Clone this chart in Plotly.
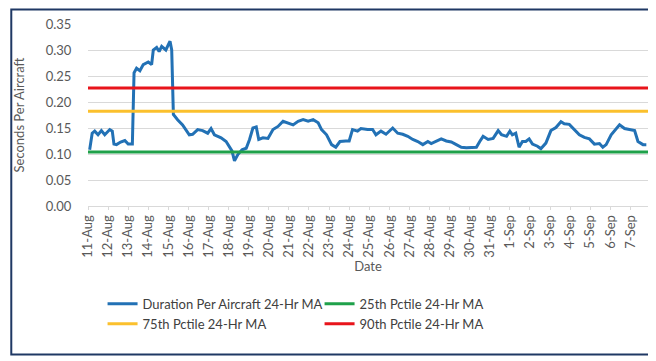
import pandas as pd
import plotly.graph_objects as go

# hours elapsed since 11-Aug 00:00 and the 24-Hr moving average (seconds per aircraft)
hours = [2, 5, 8, 12, 16, 20, 26, 29, 31, 34, 39, 44, 48, 53, 55, 58, 62, 66, 72, 76,
         78, 82, 85, 88, 93, 98, 100, 102, 107, 113, 121, 125, 131, 137, 143, 147, 151, 159,
         165, 169, 172, 175, 179, 184, 189, 193, 197, 201, 204, 209, 215, 221, 227, 233,
         239, 245, 251, 257, 263, 269, 275, 279, 285, 291, 296, 301, 308, 312, 316, 322,
         326, 334, 340, 344, 350, 356, 364, 370, 376, 382, 388, 394, 400, 406, 410, 416,
         422, 428, 434, 440, 446, 452, 458, 464, 468, 472, 478, 484, 490, 494, 500, 504,
         507, 511, 515, 519, 523, 527, 531, 537, 541, 547, 553, 559, 565, 569, 575, 581,
         587, 593, 599, 605, 611, 615, 619, 625, 631, 635, 641, 647, 653, 657, 663, 667]
duration_ma = [0.108, 0.140, 0.144, 0.137, 0.145, 0.137, 0.147, 0.144, 0.119, 0.118, 0.123,
               0.126, 0.119, 0.119, 0.256, 0.265, 0.260, 0.272, 0.277, 0.272, 0.300, 0.305,
               0.297, 0.307, 0.300, 0.317, 0.300, 0.176, 0.166, 0.156, 0.137, 0.138, 0.147,
               0.145, 0.140, 0.149, 0.137, 0.131, 0.124, 0.113, 0.106, 0.087, 0.099, 0.108,
               0.111, 0.128, 0.150, 0.152, 0.128, 0.131, 0.130, 0.147, 0.153, 0.163, 0.160,
               0.156, 0.163, 0.166, 0.163, 0.166, 0.160, 0.147, 0.137, 0.118, 0.113, 0.124,
               0.125, 0.125, 0.147, 0.144, 0.149, 0.147, 0.147, 0.137, 0.144, 0.138, 0.150,
               0.140, 0.138, 0.134, 0.128, 0.124, 0.118, 0.124, 0.120, 0.125, 0.129, 0.125,
               0.123, 0.118, 0.113, 0.112, 0.112, 0.113, 0.124, 0.134, 0.128, 0.130, 0.145,
               0.137, 0.134, 0.144, 0.137, 0.140, 0.113, 0.124, 0.124, 0.129, 0.119, 0.115,
               0.110, 0.121, 0.145, 0.151, 0.162, 0.158, 0.157, 0.147, 0.137, 0.132, 0.129,
               0.119, 0.120, 0.113, 0.118, 0.137, 0.149, 0.156, 0.149, 0.147, 0.145, 0.124,
               0.118, 0.118]
p25 = 0.104
p75 = 0.182
p90 = 0.227

start = pd.Timestamp("2019-08-11 00:00")
end = pd.Timestamp("2019-09-07 21:00")
dates = [start + pd.Timedelta(hours=h) for h in hours]
full_x = [start, end]

font = "Lato, 'Open Sans', sans-serif"
fig = go.Figure()
fig.add_trace(go.Scatter(x=dates, y=duration_ma, mode="lines", name="Duration Per Aircraft 24-Hr MA",
                         line=dict(color="#2271B5", width=3)))
fig.add_trace(go.Scatter(x=full_x, y=[p25, p25], mode="lines", name="25th Pctile 24-Hr MA",
                         line=dict(color="#1FA14A", width=3)))
fig.add_trace(go.Scatter(x=full_x, y=[p75, p75], mode="lines", name="75th Pctile 24-Hr MA",
                         line=dict(color="#FBC02D", width=3)))
fig.add_trace(go.Scatter(x=full_x, y=[p90, p90], mode="lines", name="90th Pctile 24-Hr MA",
                         line=dict(color="#E8141B", width=3)))

fig.update_layout(
    width=656, height=361,
    margin=dict(l=80, r=16, t=16, b=163),
    paper_bgcolor="white", plot_bgcolor="white",
    font=dict(family=font, size=13, color="#595959"),
    showlegend=True,
    legend=dict(orientation="h", x=0.026, xanchor="left", y=-0.455, yanchor="top",
                entrywidth=172, font=dict(size=13, color="#404040"),
                traceorder="normal"),
    shapes=[dict(type="rect", xref="paper", yref="paper",
                 x0=-0.137, x1=1.019, y0=-0.816, y1=1.08,
                 line=dict(color="#1F3864", width=2), fillcolor="rgba(0,0,0,0)", layer="below")],
)
fig.update_xaxes(
    type="date", range=[start, end],
    tickformat="%-d-%b", dtick=86400000, tick0=start, tickangle=-90,
    showgrid=False, showline=True, linecolor="#D9D9D9", linewidth=1,
    ticks="outside", ticklen=3, tickcolor="#D9D9D9",
    tickfont=dict(size=13, color="#595959"),
    title=dict(text="Date", font=dict(size=13, color="#595959"), standoff=0),
    automargin=False,
)
fig.update_yaxes(
    range=[0, 0.35], dtick=0.05, tickformat=".2f",
    showgrid=True, gridcolor="#D9D9D9", gridwidth=1, zeroline=False,
    ticks="outside", ticklen=13, tickcolor="rgba(0,0,0,0)",
    tickfont=dict(size=13, color="#595959"),
    title=dict(text="Seconds Per Aircraft", font=dict(size=13, color="#595959"), standoff=18),
    automargin=False,
)

fig.write_html("out.html")
